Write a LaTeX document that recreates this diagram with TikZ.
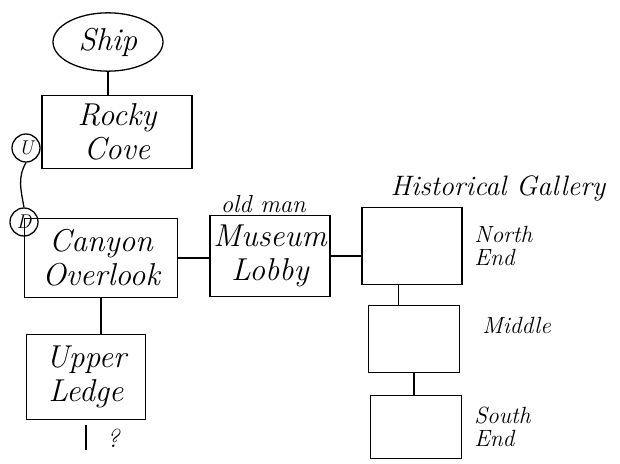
\documentclass[tikz,border=0pt]{standalone}
\usetikzlibrary{positioning,shapes.geometric}
\newcommand{\roomfont}{\fontsize{27}{29}\selectfont\itshape}
\newcommand{\sidefont}{\fontsize{20}{20}\selectfont\itshape}
\begin{document}
\begin{tikzpicture}[
    x=0.3mm, y=-0.3mm,
    line width=1.1pt,
    room/.style={draw, align=center, inner sep=1pt, font=\roomfont},
    door/.style={draw, circle, inner sep=0pt, minimum size=8.4mm, font=\fontsize{17}{17}\selectfont\itshape},
    side/.style={align=left, inner sep=1pt, font=\sidefont},
    note/.style={inner sep=1pt, font=\fontsize{21}{21}\selectfont\itshape}
]
\useasboundingbox (0,0) rectangle (620,463);

\node[room, ellipse, minimum width=33mm, minimum height=17.5mm] (ship) at (108,42) {Ship};
\node[room, minimum width=45mm, minimum height=22mm] (rocky) at (117,132) {Rocky\\Cove};
\node[door] (up) at (26,148) {U};
\node[door] (down) at (24,222) {D};
\node[room, minimum width=46mm, minimum height=23.5mm] (canyon) at (101,258) {Canyon\\Overlook};
\node[room, minimum width=36mm, minimum height=24.5mm] (museum) at (270,256) {Museum\\Lobby};
\node[note, above=0pt of museum, xshift=-2mm] (oldman) {old man};
\node[room, minimum width=35.5mm, minimum height=25.5mm] (upper) at (86,377) {Upper\\Ledge};

% gallery wing
\node[room, minimum width=30mm, minimum height=23mm] (north) at (412,246) {};
\node[room, minimum width=27.5mm, minimum height=20mm] (middle) at (414,339) {};
\node[room, minimum width=27.5mm, minimum height=19mm] (south) at (416,427) {};
\node[font=\fontsize{24}{25}\selectfont\itshape, inner sep=1pt] (gallery) at (498,188) {Historical Gallery};
\node[side, right=3mm of north] (northlbl) {North\\End};
\node[side, right=6mm of middle, yshift=4mm] (middlelbl) {Middle};
\node[side, right=3mm of south] (southlbl) {South\\End};

\coordinate (beyond) at (86,450);
\node[side, font=\fontsize{22}{22}\selectfont\itshape] (qmark) at (113,438) {?};

\draw (ship.south) -- (ship.south |- rocky.north);
\draw (up.south) to[out=-120, in=100] (down.north);
\draw (canyon.east) -- (canyon.east -| museum.west);
\draw (museum.east) -- (museum.east -| north.west);
\draw ([xshift=-4mm]north.south) -- ([xshift=-4mm]north.south |- middle.north);
\draw (middle.south) -- (middle.south |- south.north);
\draw (canyon.south) -- (canyon.south |- upper.north);
\draw[shorten <=1.5mm] (upper.south) -- (beyond);
\end{tikzpicture}
\end{document}
